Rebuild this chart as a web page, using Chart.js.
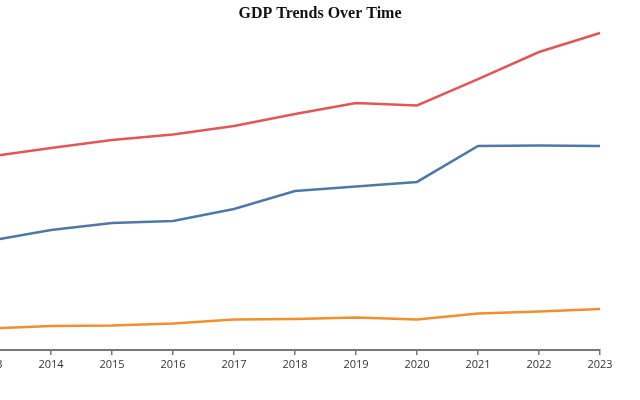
<!DOCTYPE html>
<html>
<head>
<meta charset="utf-8">
<script src="https://cdn.jsdelivr.net/npm/chart.js@4"></script>
<style>
  html, body { margin: 0; padding: 0; background: #ffffff; overflow: hidden; width: 640px; height: 400px; }
  #wrap { position: absolute; left: -40px; top: 0; width: 700px; height: 400px; }
</style>
</head>
<body>
<div id="wrap"><canvas id="c" width="700" height="400"></canvas></div>
<script>
const years = ['2013','2014','2015','2016','2017','2018','2019','2020','2021','2022','2023'];
const usGdp    = [16.76, 17.49, 18.18, 18.66, 19.39, 20.43, 21.39, 21.17, 23.46, 25.80, 27.45];
const chinaGdp = [9.45, 10.39, 11.00, 11.17, 12.21, 13.77, 14.16, 14.55, 17.66, 17.70, 17.66];
const indiaGdp = [1.87, 2.08, 2.12, 2.29, 2.64, 2.68, 2.81, 2.64, 3.16, 3.33, 3.55];

new Chart(document.getElementById('c'), {
  type: 'line',
  data: {
    labels: years,
    datasets: [
      { label: 'United States', data: usGdp, borderColor: '#e15759', backgroundColor: '#e15759' },
      { label: 'China', data: chinaGdp, borderColor: '#4e79a7', backgroundColor: '#4e79a7' },
      { label: 'India', data: indiaGdp, borderColor: '#f28e2b', backgroundColor: '#f28e2b' }
    ]
  },
  options: {
    responsive: false,
    animation: false,
    devicePixelRatio: 1,
    layout: { padding: { left: 30, right: 10, top: 0, bottom: 25.8 } },
    elements: {
      line: { borderWidth: 2.5, tension: 0, fill: false },
      point: { radius: 0, hoverRadius: 0 }
    },
    plugins: {
      legend: { display: false },
      tooltip: { enabled: false },
      title: {
        display: true,
        text: 'GDP Trends Over Time',
        color: '#111111',
        font: { family: '"Liberation Serif", serif', size: 16, weight: 'bold', lineHeight: 1.2 },
        padding: { top: 4.6, bottom: 2.8 }
      }
    },
    scales: {
      x: {
        offset: false,
        grid: { display: true, drawOnChartArea: false, drawTicks: true, tickLength: 5, color: '#777777', lineWidth: 1.5 },
        border: { display: true, color: '#777777', width: 2 },
        ticks: { color: '#333333', padding: 3, maxRotation: 0, autoSkip: false, font: { family: '"Open Sans", sans-serif', size: 11 } }
      },
      y: {
        position: 'right',
        min: 0,
        max: 28,
        grid: { display: false },
        border: { display: false },
        ticks: { display: false },
        afterFit: function (scale) { scale.width = 50; }
      }
    }
  }
});
</script>
</body>
</html>
